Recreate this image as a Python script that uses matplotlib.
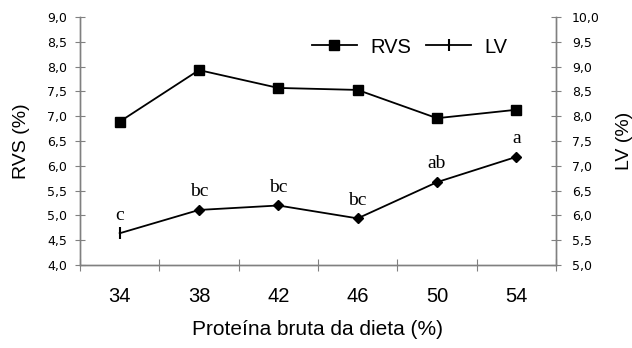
import matplotlib
matplotlib.use("Agg")
import matplotlib.pyplot as plt
import numpy as np

# data
categories = ["34", "38", "42", "46", "50", "54"]
rvs = [6.89, 7.93, 7.57, 7.53, 6.96, 7.13]
lv = [5.64, 6.11, 6.20, 5.94, 6.67, 7.18]
lv_letters = ["c", "bc", "bc", "bc", "ab", "a"]

left_ticks = np.arange(4.0, 9.01, 0.5)
right_ticks = np.arange(5.0, 10.01, 0.5)

axis_grey = "#808080"
sans = "Liberation Sans"

fig = plt.figure(figsize=(6.32, 3.48), dpi=100)
ax = fig.add_axes([0.1266, 0.2385, 0.8797 - 0.1266, 0.9511 - 0.2385])
ax2 = ax.twinx()

x = np.arange(len(categories))

# RVS on the left axis
ax.plot(x, rvs, color="black", lw=1.3, marker="s", ms=7, label="RVS")

# LV on the right axis: first point drawn as a bar, the rest as diamonds
ax2.plot(x, lv, color="black", lw=1.3, marker="D", ms=5, markevery=list(range(1, len(x))))
ax2.plot(x[:1], lv[:1], color="black", ls="none", marker="|", ms=8, mew=1.5)
for xi, yi, txt in zip(x, lv, lv_letters):
    ax2.annotate(txt, (xi, yi), xytext=(0, 7), textcoords="offset points",
                 ha="center", va="bottom", fontsize=14, family="Liberation Serif")

ax.set_xlim(-0.5, len(categories) - 0.5)
ax.set_ylim(4.0, 9.0)
ax2.set_ylim(5.0, 10.0)

ax.set_yticks(left_ticks)
ax.set_yticklabels([f"{v:.1f}".replace(".", ",") for v in left_ticks], fontsize=9)
ax2.set_yticks(right_ticks)
ax2.set_yticklabels([f"{v:.1f}".replace(".", ",") for v in right_ticks], fontsize=9)

# category axis: tick marks between categories, labels at centers
ax.set_xticks(np.arange(-0.5, len(categories), 1.0))
ax.set_xticklabels([])
ax.set_xticks(x, minor=True)
ax.set_xticklabels(categories, minor=True, fontsize=14.5, family=sans)
ax.tick_params(axis="x", which="major", direction="inout", length=8, color=axis_grey)
ax.tick_params(axis="x", which="minor", length=0, pad=16)
ax.tick_params(axis="y", direction="inout", length=7, color=axis_grey, pad=6)
ax2.tick_params(axis="y", direction="inout", length=7, color=axis_grey, pad=8)

for a in (ax, ax2):
    a.spines["top"].set_visible(False)
    for s in ("left", "right", "bottom"):
        a.spines[s].set_color(axis_grey)
        a.spines[s].set_linewidth(1.0)
    a.set_facecolor("none")

ax.set_xlabel("Proteína bruta da dieta (%)", fontsize=15, family=sans, labelpad=10)
ax.set_ylabel("RVS (%)", fontsize=14, family=sans, labelpad=12)
ax2.set_ylabel("LV (%)", fontsize=14, family=sans, labelpad=12)

# legend
h_rvs = plt.Line2D([], [], color="black", lw=1.3, marker="s", ms=7)
h_lv = plt.Line2D([], [], color="black", lw=1.3, marker="|", ms=8, mew=1.5)
ax.legend([h_rvs, h_lv], ["RVS", "LV"], ncol=2, frameon=False,
          loc="center left", bbox_to_anchor=(0.487, 0.879),
          prop={"family": sans, "size": 14.5}, handlelength=2.25,
          handletextpad=0.65, columnspacing=0.75, borderpad=0,
          borderaxespad=0)

fig.savefig("out.png", dpi=100)
plt.close(fig)
